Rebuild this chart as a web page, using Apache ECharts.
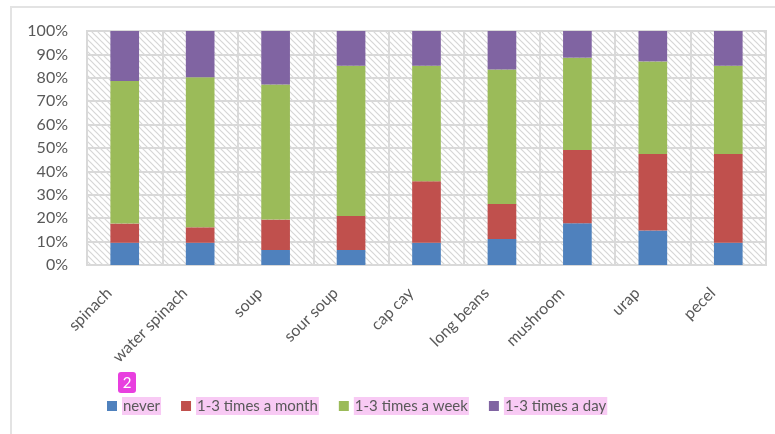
<!DOCTYPE html>
<html>
<head>
    <meta charset="utf-8">
    <title>ECharts</title>
    <script src="https://cdn.jsdelivr.net/npm/echarts@6/dist/echarts.min.js"></script>
    <style>
        html, body { margin: 0; padding: 0; background: #fff; }
        #frame { position: absolute; left: 10px; top: 6px; width: 765px; height: 428px;
                 border-top: 2px solid #e3e3e3; border-left: 2px solid #e3e3e3; }
    </style>
</head>
<body>
<div id="frame"></div>
<div id="main" style="position:absolute;left:0;top:0;width: 775px;height:434px;"></div>
<script type="text/javascript">
    // data (percent of respondents)
    var categories = ['spinach', 'water spinach', 'soup', 'sour soup', 'cap cay', 'long beans', 'mushroom', 'urap', 'pecel'];
    var never = [9.5, 9.5, 6.4, 6.4, 9.5, 11.1, 17.8, 14.7, 9.5];
    var perMonth = [8.2, 6.6, 13.0, 14.5, 26.3, 15.0, 31.3, 32.7, 37.9];
    var perWeek = [60.9, 64.1, 57.7, 64.3, 49.4, 57.5, 39.5, 39.6, 37.8];
    var perDay = [21.4, 19.8, 22.9, 14.8, 14.8, 16.4, 11.4, 13.0, 14.8];
    var seriesNames = ['never', '1-3 times a month', '1-3 times a week', '1-3 times a day'];
    var colors = ['#4f81bd', '#c0504d', '#9bbb59', '#8064a2'];

    // diagonal hatch for the plot area
    var hatch = document.createElement('canvas');
    hatch.width = 6; hatch.height = 6;
    var ctx = hatch.getContext('2d');
    ctx.fillStyle = '#ffffff';
    ctx.fillRect(0, 0, 6, 6);
    ctx.strokeStyle = '#d6d6d6';
    ctx.lineWidth = 1.2;
    ctx.beginPath();
    ctx.moveTo(-1, -1); ctx.lineTo(7, 7);
    ctx.moveTo(-1, 5); ctx.lineTo(1, 7);
    ctx.moveTo(5, -1); ctx.lineTo(7, 1);
    ctx.stroke();

    var font = 'Lato';
    var chart = echarts.init(document.getElementById('main'));
    var allData = [never, perMonth, perWeek, perDay];
    var series = [];
    for (var i = 0; i < allData.length; i++) {
        series.push({
            name: seriesNames[i],
            type: 'bar',
            stack: 'total',
            barWidth: '38%',
            itemStyle: { color: colors[i] },
            data: allData[i]
        });
    }

    chart.setOption({
        animation: false,
        grid: {
            left: 87, right: 9, top: 31, bottom: 169,
            show: true,
            backgroundColor: { image: hatch, repeat: 'repeat' },
            borderColor: '#d9d9d9', borderWidth: 2
        },
        legend: {
            left: 102, top: 392,
            itemWidth: 10, itemHeight: 10, itemGap: 20,
            icon: 'rect',
            textStyle: {
                fontFamily: font, fontSize: 15, color: '#595959',
                backgroundColor: '#f8caf4', padding: [2, 1, 1, 1]
            },
            data: seriesNames
        },
        xAxis: {
            type: 'category',
            data: categories,
            axisLine: { show: false },
            axisTick: { show: false },
            splitLine: { show: true, lineStyle: { color: '#d9d9d9', width: 2 } },
            axisLabel: {
                rotate: 45, margin: 10, interval: 0, padding: [0, 22, 0, 0],
                fontFamily: font, fontSize: 16, color: '#595959'
            }
        },
        yAxis: {
            type: 'value',
            min: 0, max: 100, interval: 10,
            axisLine: { show: false },
            axisTick: { show: false },
            splitLine: { lineStyle: { color: '#d9d9d9', width: 2 } },
            axisLabel: { margin: 19, fontFamily: font, fontSize: 16, color: '#595959', formatter: '{value}%' }
        },
        graphic: [{
            type: 'group', left: 118, top: 372,
            children: [
                { type: 'rect', shape: { x: 0, y: 0, width: 18, height: 21, r: 3 }, style: { fill: '#e83fdf' } },
                { type: 'text', x: 9, y: 11, style: { text: '2', fill: '#fff', font: '15px Lato', align: 'center', verticalAlign: 'middle' } }
            ]
        }],
        series: series
    });
</script>
</body>
</html>
